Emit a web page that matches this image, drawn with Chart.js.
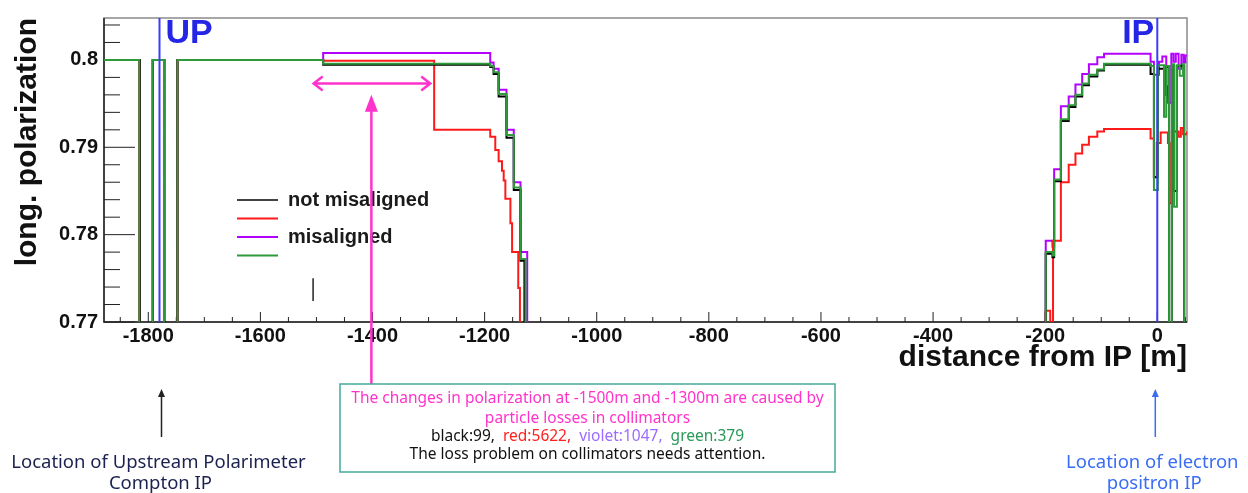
<!DOCTYPE html>
<html>
<head>
<meta charset="utf-8">
<script src="https://cdn.jsdelivr.net/npm/chart.js@4.4.1/dist/chart.umd.min.js"></script>
<style>
  html, body { margin: 0; padding: 0; background: #fff; }
  canvas { display: block; }
</style>
</head>
<body>
<canvas id="chart1" width="1248" height="493"></canvas>
<script>
// ticks
var xTicks = [-1800, -1600, -1400, -1200, -1000, -800, -600, -400, -200, 0];
var yTicks = [0.77, 0.78, 0.79, 0.8];

var seriesNames = ['black', 'red', 'violet', 'green'];
var legendText = ['not misaligned', '', 'misaligned', ''];
var seriesColors = ['#000000', '#ff1a1a', '#b300ff', '#2e9a3a'];
var lossCounts = [99, 5622, 1047, 379];

// [distance from IP (m), long. polarization] - value holds until next point
var blackPts = [
  [-1879, 0.8], [-1815, 0.76], [-1792, 0.8], [-1771, 0.76], [-1748, 0.8],
  [-1488, 0.79945], [-1190, 0.7992], [-1184, 0.7984], [-1175, 0.7958], [-1161, 0.7911], [-1148, 0.7851], [-1136, 0.7770], [-1129, 0.76],
  [-199, 0.7778], [-187, 0.7774], [-184, 0.7861], [-172, 0.7930], [-158, 0.7946], [-146, 0.7958], [-134, 0.7971], [-122, 0.7981], [-107, 0.7988], [-95, 0.79945],
  [-12, 0.7984], [-6, 0.7866], [1, 0.7990], [12, 0.7960], [16, 0.7992], [21, 0.76], [26, 0.7993], [30, 0.7850], [35, 0.7993], [48, 0.76], [53, 0.76]
];
var redPts = [
  [-1879, 0.8], [-1816, 0.76], [-1792, 0.8], [-1772, 0.76], [-1748, 0.8],
  [-1488, 0.7999], [-1290, 0.7920], [-1190, 0.7912], [-1181, 0.7897], [-1175, 0.7884], [-1169, 0.7873], [-1166, 0.7862], [-1163, 0.7841], [-1154, 0.7813], [-1151, 0.7780], [-1140, 0.7739], [-1137, 0.76],
  [-199, 0.7713], [-191, 0.76], [-186, 0.7793], [-172, 0.7860], [-158, 0.7880], [-146, 0.7893], [-134, 0.7903], [-122, 0.7912], [-107, 0.7918], [-95, 0.7921],
  [-12, 0.7910], [-6, 0.78655], [-1, 0.7905], [6, 0.7917], [19, 0.7905], [22, 0.7836], [26, 0.7918], [38, 0.7912], [42, 0.7922], [46, 0.7915], [53, 0.7918]
];
var violetPts = [
  [-1879, 0.8], [-1816, 0.76], [-1792, 0.8], [-1772, 0.76], [-1748, 0.8],
  [-1488, 0.80078], [-1190, 0.7997], [-1184, 0.7990], [-1175, 0.7966], [-1161, 0.7920], [-1148, 0.7860], [-1136, 0.7780], [-1124, 0.76],
  [-199, 0.7793], [-187, 0.7786], [-184, 0.7875], [-172, 0.7947], [-158, 0.7958], [-146, 0.7972], [-134, 0.7984], [-122, 0.7995], [-107, 0.8003], [-95, 0.8007],
  [-12, 0.7998], [-6, 0.7983], [3, 0.7998], [9, 0.8004], [16, 0.7970], [19, 0.7951], [25, 0.8007], [29, 0.7998], [33, 0.8007], [38, 0.7990], [43, 0.8006], [47, 0.7997], [50, 0.8005], [53, 0.8005]
];
var greenPts = [
  [-1879, 0.8], [-1816, 0.76], [-1792, 0.8], [-1772, 0.76], [-1748, 0.8],
  [-1488, 0.79955], [-1190, 0.7993], [-1184, 0.7986], [-1175, 0.7961], [-1161, 0.7914], [-1148, 0.7854], [-1136, 0.7772], [-1127, 0.76],
  [-199, 0.7780], [-187, 0.7776], [-184, 0.7863], [-172, 0.7932], [-158, 0.7948], [-146, 0.7960], [-134, 0.7973], [-122, 0.7983], [-107, 0.7989], [-95, 0.79955],
  [-12, 0.7993], [-6, 0.7851], [1, 0.7994], [12, 0.7935], [16, 0.7993], [21, 0.76], [26, 0.7995], [30, 0.7832], [35, 0.7994], [40, 0.7982], [46, 0.7995], [48, 0.76], [53, 0.76]
];
var seriesPts = [blackPts, redPts, violetPts, greenPts];

var markerPos = [-1780, 0];      // Upstream polarimeter, IP
var markerText = ['UP', 'IP'];
var collimatorRange = [-1505, -1297];
var strayMark = [-1506, 0.7724, 0.7750];

var noteLines = [['Location of Upstream Polarimeter', 'Compton IP'], ['Location of electron', 'positron IP']];
var boxLines = ['The changes in polarization at -1500m and -1300m are caused by', 'particle losses in collimators',
                'The loss problem on collimators needs attention.'];

var AX_FONT = '"Liberation Sans", Arial, sans-serif';
var NOTE_FONT = '"Noto Sans", sans-serif';
var MAGENTA = '#ff33cc';

var datasets = seriesPts.map(function (pts, i) {
  return {
    label: seriesNames[i],
    data: pts.map(function (p) { return {x: p[0], y: p[1]}; }),
    borderColor: seriesColors[i],
    backgroundColor: seriesColors[i],
    order: i === 3 ? 0 : i + 1
  };
});

function arrowHead(ctx, x, y, dx, dy, size, width) {
  ctx.beginPath();
  ctx.moveTo(x, y);
  ctx.lineTo(x - dx * size - dy * width, y - dy * size + dx * width);
  ctx.lineTo(x - dx * size + dy * width, y - dy * size - dx * width);
  ctx.closePath();
  ctx.fill();
}

var framePlugin = {
  id: 'frame',
  beforeDatasetsDraw: function (chart) {
    var ctx = chart.ctx, a = chart.chartArea, x = chart.scales.x, y = chart.scales.y;
    ctx.save();
    ctx.strokeStyle = '#8a8a8a';
    ctx.lineWidth = 1.5;
    ctx.strokeRect(a.left, a.top, a.right - a.left, a.bottom - a.top);
    ctx.strokeStyle = '#222';
    ctx.beginPath();
    ctx.moveTo(a.left, a.top); ctx.lineTo(a.left, a.bottom); ctx.lineTo(a.right, a.bottom);
    ctx.stroke();
    ctx.lineWidth = 1;
    ctx.beginPath();
    for (var v = -1850; v <= 50; v += 50) {
      var px = x.getPixelForValue(v);
      ctx.moveTo(px, a.bottom);
      ctx.lineTo(px, a.bottom - (v % 200 === 0 ? 10 : 5));
    }
    for (var k = 0; k <= 17; k++) {
      var py = y.getPixelForValue(0.77 + k * 0.002);
      ctx.moveTo(a.left, py);
      ctx.lineTo(a.left + (k % 5 === 0 ? 31 : 16), py);
    }
    ctx.stroke();
    ctx.restore();
  }
};

var overlayPlugin = {
  id: 'overlay',
  afterDraw: function (chart) {
    var ctx = chart.ctx, a = chart.chartArea, x = chart.scales.x, y = chart.scales.y;
    ctx.save();

    // UP / IP marker lines
    markerPos.forEach(function (m, i) {
      var px = x.getPixelForValue(m);
      ctx.strokeStyle = '#3c3cff';
      ctx.lineWidth = 2;
      ctx.beginPath(); ctx.moveTo(px, a.top); ctx.lineTo(px, a.bottom); ctx.stroke();
      ctx.fillStyle = '#2525e6';
      ctx.font = 'bold 34px ' + AX_FONT;
      ctx.textBaseline = 'alphabetic';
      ctx.textAlign = i === 0 ? 'left' : 'right';
      ctx.fillText(markerText[i], i === 0 ? px + 6 : px - 3, 43);
    });

    // legend
    ctx.font = 'bold 20px ' + AX_FONT;
    ctx.textAlign = 'left';
    ctx.textBaseline = 'middle';
    seriesNames.forEach(function (n, i) {
      var ly = 200 + i * 18.5;
      ctx.strokeStyle = i === 0 ? '#444' : seriesColors[i];
      ctx.lineWidth = 2;
      ctx.beginPath(); ctx.moveTo(237, ly); ctx.lineTo(278, ly); ctx.stroke();
      if (legendText[i]) {
        ctx.fillStyle = '#1a1a1a';
        ctx.fillText(legendText[i], 288, ly);
      }
    });

    // stray mark
    ctx.strokeStyle = '#222';
    ctx.lineWidth = 1.5;
    ctx.beginPath();
    ctx.moveTo(x.getPixelForValue(strayMark[0]), y.getPixelForValue(strayMark[1]));
    ctx.lineTo(x.getPixelForValue(strayMark[0]), y.getPixelForValue(strayMark[2]));
    ctx.stroke();

    // magenta double arrow over collimator range
    var hx0 = x.getPixelForValue(collimatorRange[0]), hx1 = x.getPixelForValue(collimatorRange[1]);
    var hy = y.getPixelForValue(0.7973);
    ctx.strokeStyle = MAGENTA;
    ctx.fillStyle = MAGENTA;
    ctx.lineWidth = 2.5;
    ctx.beginPath();
    ctx.moveTo(hx0, hy); ctx.lineTo(hx1, hy);
    ctx.moveTo(hx0 + 9, hy - 7); ctx.lineTo(hx0, hy); ctx.lineTo(hx0 + 9, hy + 7);
    ctx.moveTo(hx1 - 9, hy - 7); ctx.lineTo(hx1, hy); ctx.lineTo(hx1 - 9, hy + 7);
    ctx.stroke();

    // magenta vertical arrow down to the box
    var boxL = 340, boxT = 384, boxW = 495, boxH = 88;
    var vx = x.getPixelForValue(-1402), vy = y.getPixelForValue(0.7960);
    ctx.beginPath(); ctx.moveTo(vx, boxT); ctx.lineTo(vx, vy + 10); ctx.stroke();
    arrowHead(ctx, vx, vy, 0, -1, 17, 6.5);

    // annotation box
    ctx.strokeStyle = '#45a89a';
    ctx.lineWidth = 1.5;
    ctx.strokeRect(boxL, boxT, boxW, boxH);
    var cx = boxL + boxW / 2;
    ctx.font = '15.5px ' + NOTE_FONT;
    ctx.textAlign = 'center';
    ctx.textBaseline = 'middle';
    ctx.fillStyle = MAGENTA;
    ctx.fillText(boxLines[0], cx, 399);
    ctx.fillText(boxLines[1], cx, 419);
    var countColors = ['#111', '#ff2020', '#9b6cff', '#2a9a5a'];
    var parts = seriesNames.map(function (n, i) {
      return n + ':' + lossCounts[i] + (i < seriesNames.length - 1 ? ',  ' : '');
    });
    var total = parts.reduce(function (s, p) { return s + ctx.measureText(p).width; }, 0);
    var tx = cx - total / 2;
    ctx.textAlign = 'left';
    parts.forEach(function (p, i) {
      ctx.fillStyle = countColors[i];
      ctx.fillText(p, tx, 437);
      tx += ctx.measureText(p).width;
    });
    ctx.textAlign = 'center';
    ctx.fillStyle = '#111';
    ctx.fillText(boxLines[2], cx, 455);

    // location notes below the plot
    var noteColors = ['#1b2150', '#3a6cf5'];
    markerPos.forEach(function (m, i) {
      var px = x.getPixelForValue(m) + (i === 0 ? 2 : -2);
      ctx.strokeStyle = i === 0 ? '#222' : noteColors[i];
      ctx.fillStyle = ctx.strokeStyle;
      ctx.lineWidth = 1.5;
      ctx.beginPath(); ctx.moveTo(px, 437); ctx.lineTo(px, 394); ctx.stroke();
      arrowHead(ctx, px, 389, 0, -1, 8, 3.5);
      ctx.fillStyle = noteColors[i];
      ctx.font = '18.5px ' + NOTE_FONT;
      ctx.textAlign = 'center';
      ctx.fillText(noteLines[i][0], px - 3, 463);
      ctx.fillText(noteLines[i][1], px - 1, 484);
    });

    ctx.restore();
  }
};

var ctx = document.getElementById('chart1');

var chart1 = new Chart(ctx, {
  type: 'line',
  data: { datasets: datasets },
  options: {
    responsive: false,
    animation: false,
    devicePixelRatio: 1,
    layout: { padding: { top: 9, right: 61, left: 0, bottom: 0 } },
    plugins: { legend: { display: false }, tooltip: { enabled: false } },
    elements: {
      point: { radius: 0 },
      line: { borderWidth: 2, stepped: true, tension: 0 }
    },
    scales: {
      x: {
        type: 'linear',
        min: -1879,
        max: 53,
        afterBuildTicks: function (s) { s.ticks = xTicks.map(function (v) { return {value: v}; }); },
        afterFit: function (s) { s.height = 171; },
        grid: { display: false, drawTicks: false },
        border: { display: false },
        ticks: {
          callback: function (v) { return String(v); },
          maxRotation: 0, autoSkip: false, padding: 2, color: '#111',
          font: { family: AX_FONT, size: 20, weight: 'bold' }
        },
        title: {
          display: true, text: 'distance from IP [m]', align: 'end', color: '#111',
          font: { family: AX_FONT, size: 30, weight: 'bold' },
          padding: { top: 0, bottom: 117 }
        }
      },
      y: {
        type: 'linear',
        min: 0.77,
        max: 0.8048,
        afterBuildTicks: function (s) { s.ticks = yTicks.map(function (v) { return {value: v}; }); },
        afterFit: function (s) { s.width = 104; },
        grid: { display: false, drawTicks: false },
        border: { display: false },
        ticks: {
          callback: function (v) { return String(v); },
          padding: 6, color: '#111',
          font: { family: AX_FONT, size: 20, weight: 'bold' }
        },
        title: {
          display: true, text: 'long. polarization', align: 'end', color: '#111',
          font: { family: AX_FONT, size: 30, weight: 'bold' },
          padding: { top: 10, bottom: 0 }
        }
      }
    }
  },
  plugins: [framePlugin, overlayPlugin]
});
</script>
</body>
</html>
